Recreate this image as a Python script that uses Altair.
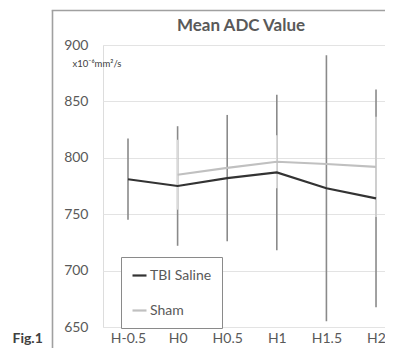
import json
import altair as alt
import pandas as pd

categories = ["H-0.5", "H0", "H0.5", "H1", "H1.5", "H2"]
series_names = ["TBI Saline", "Sham"]
tbi_mean = [781, 775, 782, 787, 773, 764]
tbi_err = [36, 53, 56, 69, 118, 96.5]
sham_mean = [None, 785, 791, 796.5, 794.5, 792]
sham_err = [None, 31, None, 23.5, None, 44.5]
y_ticks = [650, 700, 750, 800, 850, 900]

rows = []
for name, means, errs in [("TBI Saline", tbi_mean, tbi_err), ("Sham", sham_mean, sham_err)]:
    for i, (c, m, e) in enumerate(zip(categories, means, errs)):
        if m is None:
            continue
        rows.append({
            "idx": i, "cat": c, "series": name, "mean": m,
            "lo": (m - e) if e is not None else None,
            "hi": (m + e) if e is not None else None,
        })
df = pd.DataFrame(rows)

label_expr = json.dumps(categories) + "[datum.value]"

x_enc = alt.X("idx:Q",
              scale=alt.Scale(domain=[-0.504, 5.181], nice=False, zero=False),
              axis=alt.Axis(values=list(range(len(categories))), labelExpr=label_expr,
                            grid=False, domain=False, ticks=False, labelPadding=4,
                            labelFontSize=14, labelColor="#595959", labelFont="Lato",
                            title="Fig.1", titleX=-91, titleY=11, titleAlign="left",
                            titleBaseline="middle", titleFontSize=14, titleFont="Lato",
                            titleFontWeight="bold", titleColor="#404040"))
y_scale = alt.Scale(domain=[650, 900], nice=False, zero=False)
y_axis = alt.Axis(values=y_ticks, grid=True, gridColor="#e3e3e3", gridWidth=1.2,
                  domain=False, ticks=False, labelPadding=15, labelFontSize=14,
                  labelColor="#595959", labelFont="Lato",
                  title="x10⁻⁶mm²/s", titleAngle=0, titleX=-31, titleY=18,
                  titleAlign="left", titleBaseline="middle", titleFontSize=9.5,
                  titleFont="Lato", titleFontWeight="normal", titleColor="#404040")

base = alt.Chart(df)

err_tbi = base.transform_filter(
    (alt.datum.series == "TBI Saline") & alt.expr.isValid(alt.datum.lo)
).mark_rule(strokeWidth=1.6, color="#8a8a8a").encode(
    x=x_enc, y=alt.Y("lo:Q", scale=y_scale, axis=y_axis), y2="hi:Q")

err_sham = base.transform_filter(
    (alt.datum.series == "Sham") & alt.expr.isValid(alt.datum.lo)
).mark_rule(strokeWidth=1.6, color="#dadada").encode(
    x="idx:Q", y="lo:Q", y2="hi:Q")

lines = base.mark_line(strokeWidth=2.2).encode(
    x="idx:Q", y="mean:Q",
    color=alt.Color("series:N",
                    scale=alt.Scale(domain=series_names[::-1], range=["#c0c0c0", "#333333"]),
                    sort=series_names,
                    legend=alt.Legend(title=None, orient="none", legendX=18, legendY=212,
                                      direction="vertical", symbolType="stroke",
                                      symbolSize=196, symbolStrokeWidth=2.2,
                                      labelFontSize=14, labelFont="Lato",
                                      labelColor="#595959", labelOffset=2,
                                      rowPadding=19, padding=10,
                                      strokeColor="#8a8a8a", fillColor="white",
                                      values=series_names)),
    order=alt.Order("idx:Q"),
    detail="series:N")

frame_data = alt.Data(values=[{"k": 1}])
frame_v = alt.Chart(frame_data).mark_rule(color="#a0a0a0", strokeWidth=1.6).encode(
    x=alt.value(-50.5), y=alt.value(-34.5), y2=alt.value(303))
frame_h = alt.Chart(frame_data).mark_rect(color="#a0a0a0").encode(
    x=alt.value(-51.3), x2=alt.value(282), y=alt.value(-35.3), y2=alt.value(-33.7))
title_txt = alt.Chart(frame_data).mark_text(
    fontSize=17, font="Lato", fontWeight="bold", color="#595959",
    align="center", baseline="middle").encode(
    x=alt.value(138), y=alt.value(-19), text=alt.value("Mean ADC Value"))

chart = alt.layer(frame_v, frame_h, title_txt, err_tbi, err_sham, lines).properties(
    width=282, height=282,
    autosize=alt.AutoSizeParams(type="none"),
    padding={"left": 95, "top": 37, "right": 0, "bottom": 21},
).configure_view(stroke=None).configure(background="white")

chart.save("out.html", embed_options={"renderer": "svg", "actions": False})
